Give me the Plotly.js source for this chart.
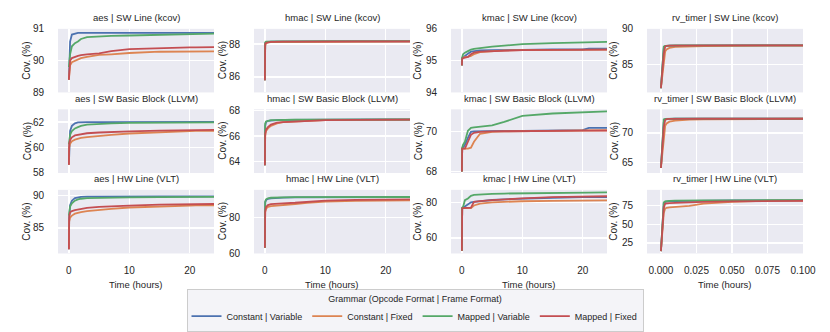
<!DOCTYPE html>
<html>
<head>
<meta charset="utf-8">
<script src="https://cdn.plot.ly/plotly-3.0.1.min.js"></script>
<style>
  html, body { margin: 0; padding: 0; background: #fff; }
  #chart { width: 830px; height: 332px; }
</style>
</head>
<body>
<div id="chart"></div>
<script>
// legend order: Constant|Variable, Constant|Fixed, Mapped|Variable, Mapped|Fixed
const seriesNames = ['Constant | Variable', 'Constant | Fixed', 'Mapped | Variable', 'Mapped | Fixed'];
const seriesColors = ['#4c72b0', '#dd8452', '#55a868', '#c44e52'];
const designs = ['aes', 'hmac', 'kmac', 'rv_timer'];
const metrics = ['SW Line (kcov)', 'SW Basic Block (LLVM)', 'HW Line (VLT)'];

// sample times (hours)
const hours = [0, 0.05, 0.2, 0.5, 1, 1.5, 2, 3, 5, 7, 10, 15, 20, 21, 24, 30];
const hoursTimer = [0, 0.001, 0.002, 0.003, 0.004, 0.006, 0.01, 0.015, 0.02, 0.03, 0.05, 0.075, 0.1, 0.15];

// SW Line (kcov)
const aesKcov = [
  [89.4, 89.9, 90.6, 90.82, 90.85, 90.87, 90.87, 90.87, 90.87, 90.87, 90.87, 90.87, 90.87, 90.87, 90.87, 90.87],
  [89.4, 89.7, 89.85, 89.95, 90.0, 90.05, 90.08, 90.12, 90.18, 90.2, 90.24, 90.28, 90.3, 90.3, 90.3, 90.3],
  [89.8, 89.9, 90.2, 90.45, 90.55, 90.6, 90.68, 90.74, 90.77, 90.78, 90.79, 90.81, 90.84, 90.85, 90.86, 90.87],
  [89.4, 89.8, 90.0, 90.08, 90.12, 90.15, 90.17, 90.2, 90.23, 90.3, 90.36, 90.4, 90.42, 90.42, 90.43, 90.43]
];
const hmacKcov = [
  [85.8, 88.05, 88.1, 88.13, 88.15, 88.15, 88.15, 88.16, 88.16, 88.16, 88.17, 88.17, 88.17, 88.17, 88.17, 88.17],
  [85.8, 87.9, 88.05, 88.1, 88.12, 88.12, 88.13, 88.13, 88.14, 88.14, 88.15, 88.15, 88.15, 88.15, 88.15, 88.15],
  [85.8, 88.1, 88.15, 88.16, 88.16, 88.17, 88.17, 88.17, 88.18, 88.18, 88.18, 88.18, 88.18, 88.18, 88.18, 88.18],
  [85.8, 88.0, 88.08, 88.12, 88.14, 88.14, 88.15, 88.15, 88.15, 88.16, 88.16, 88.16, 88.16, 88.16, 88.16, 88.16]
];
const kmacKcov = [
  [94.85, 95.08, 95.1, 95.15, 95.22, 95.28, 95.3, 95.32, 95.33, 95.34, 95.34, 95.35, 95.35, 95.38, 95.38, 95.38],
  [94.85, 95.08, 95.1, 95.1, 95.12, 95.15, 95.2, 95.27, 95.3, 95.32, 95.33, 95.34, 95.35, 95.35, 95.35, 95.35],
  [94.85, 95.1, 95.2, 95.25, 95.3, 95.35, 95.37, 95.4, 95.44, 95.47, 95.52, 95.55, 95.57, 95.58, 95.6, 95.62],
  [94.85, 95.05, 95.08, 95.1, 95.12, 95.2, 95.25, 95.28, 95.3, 95.32, 95.33, 95.34, 95.35, 95.35, 95.35, 95.35]
];
const timerKcov = [
  [81.6, 84.5, 87.3, 87.55, 87.6, 87.62, 87.63, 87.64, 87.65, 87.65, 87.66, 87.66, 87.66, 87.66],
  [81.6, 83.5, 85.5, 86.8, 87.1, 87.3, 87.45, 87.5, 87.52, 87.55, 87.6, 87.65, 87.66, 87.66],
  [81.6, 85.5, 87.5, 87.6, 87.62, 87.63, 87.64, 87.65, 87.65, 87.65, 87.66, 87.66, 87.66, 87.66],
  [81.6, 84.0, 86.5, 87.5, 87.6, 87.63, 87.64, 87.65, 87.65, 87.66, 87.66, 87.66, 87.66, 87.66]
];

// SW Basic Block (LLVM)
const aesLlvm = [
  [58.65, 60.2, 61.3, 61.7, 61.9, 61.98, 62.0, 62.0, 62.0, 62.0, 62.01, 62.01, 62.02, 62.02, 62.02, 62.02],
  [58.65, 60.0, 60.3, 60.5, 60.62, 60.7, 60.75, 60.82, 60.92, 61.0, 61.1, 61.22, 61.28, 61.3, 61.3, 61.32],
  [60.25, 60.6, 61.0, 61.3, 61.5, 61.6, 61.7, 61.8, 61.87, 61.9, 61.93, 61.95, 61.97, 61.98, 62.0, 62.0],
  [58.65, 60.3, 60.6, 60.8, 60.95, 61.0, 61.05, 61.12, 61.18, 61.22, 61.27, 61.32, 61.37, 61.38, 61.4, 61.42]
];
const hmacLlvm = [
  [63.7, 66.8, 67.1, 67.2, 67.22, 67.25, 67.26, 67.27, 67.28, 67.28, 67.29, 67.3, 67.3, 67.3, 67.3, 67.3],
  [63.7, 66.0, 66.4, 66.6, 66.8, 66.9, 67.0, 67.1, 67.15, 67.2, 67.25, 67.27, 67.28, 67.28, 67.3, 67.3],
  [63.7, 67.0, 67.15, 67.2, 67.25, 67.26, 67.27, 67.28, 67.28, 67.29, 67.3, 67.3, 67.3, 67.3, 67.3, 67.3],
  [63.7, 66.2, 66.5, 66.7, 66.9, 67.0, 67.05, 67.1, 67.15, 67.2, 67.25, 67.27, 67.28, 67.28, 67.3, 67.3]
];
const kmacLlvm = [
  [68.0, 69.15, 69.2, 69.35, 69.7, 70.0, 70.02, 70.03, 70.04, 70.05, 70.05, 70.06, 70.08, 70.2, 70.2, 70.2],
  [68.0, 69.15, 69.15, 69.15, 69.15, 69.2, 69.5, 69.9, 70.0, 70.02, 70.03, 70.05, 70.08, 70.08, 70.1, 70.1],
  [68.0, 69.2, 69.35, 69.5, 70.05, 70.2, 70.22, 70.25, 70.32, 70.5, 70.8, 70.92, 71.0, 71.0, 71.05, 71.1],
  [68.0, 69.15, 69.15, 69.15, 69.5, 69.85, 69.95, 70.0, 70.02, 70.03, 70.04, 70.05, 70.06, 70.06, 70.07, 70.07]
];
const timerLlvm = [
  [64.05, 68.0, 71.8, 72.3, 72.35, 72.38, 72.4, 72.4, 72.4, 72.4, 72.4, 72.4, 72.4, 72.4],
  [64.05, 66.5, 69.5, 71.2, 71.6, 71.9, 72.1, 72.2, 72.25, 72.3, 72.35, 72.38, 72.4, 72.4],
  [64.05, 69.5, 72.3, 72.38, 72.4, 72.4, 72.4, 72.4, 72.4, 72.4, 72.4, 72.4, 72.4, 72.4],
  [64.05, 67.5, 71.0, 72.2, 72.35, 72.38, 72.4, 72.4, 72.4, 72.4, 72.4, 72.4, 72.4, 72.4]
];

// HW Line (VLT)
const aesVlt = [
  [81.7, 86.5, 88.5, 89.2, 89.6, 89.75, 89.8, 89.82, 89.84, 89.85, 89.85, 89.85, 89.85, 89.85, 89.85, 89.85],
  [81.7, 86.0, 86.6, 86.9, 87.2, 87.35, 87.45, 87.6, 87.8, 87.95, 88.15, 88.35, 88.45, 88.47, 88.5, 88.5],
  [86.9, 87.6, 88.3, 88.8, 89.2, 89.4, 89.5, 89.58, 89.65, 89.68, 89.72, 89.75, 89.78, 89.8, 89.8, 89.82],
  [81.7, 86.8, 87.4, 87.6, 87.75, 87.85, 87.95, 88.1, 88.25, 88.35, 88.45, 88.6, 88.68, 88.7, 88.72, 88.75]
];
const hmacVlt = [
  [63.2, 88.5, 89.8, 90.5, 90.8, 91.0, 91.1, 91.2, 91.25, 91.3, 91.3, 91.35, 91.4, 91.4, 91.4, 91.4],
  [63.2, 83.0, 85.0, 86.0, 86.4, 86.6, 86.8, 87.1, 87.6, 88.2, 89.0, 89.4, 89.6, 89.6, 89.7, 89.8],
  [63.2, 89.0, 90.2, 90.8, 91.1, 91.2, 91.3, 91.35, 91.4, 91.45, 91.5, 91.5, 91.5, 91.5, 91.5, 91.5],
  [63.2, 83.5, 86.0, 87.0, 87.5, 87.7, 87.8, 88.0, 88.3, 88.8, 89.5, 89.9, 90.1, 90.1, 90.2, 90.3]
];
const kmacVlt = [
  [52.6, 77.0, 77.2, 78.0, 79.4, 80.3, 80.6, 81.0, 81.6, 82.0, 82.5, 82.9, 83.2, 83.3, 83.4, 83.5],
  [52.6, 76.8, 77.0, 77.0, 77.0, 77.0, 78.5, 79.5, 80.3, 80.6, 80.9, 81.1, 81.3, 81.3, 81.4, 81.5],
  [52.6, 77.3, 77.8, 81.5, 82.5, 84.0, 84.5, 84.8, 85.1, 85.3, 85.5, 85.7, 85.8, 85.85, 86.0, 86.1],
  [52.6, 76.9, 77.0, 77.0, 77.0, 77.2, 80.5, 81.0, 81.5, 82.0, 82.5, 83.2, 83.7, 83.8, 84.0, 84.1]
];
const timerVlt = [
  [14, 50, 78, 80, 80.5, 80.8, 81, 81.2, 81.4, 81.6, 81.8, 82, 82.2, 82.3],
  [14, 40, 65, 71, 72, 72.5, 73, 73.5, 74.5, 77.5, 80, 81.5, 82, 82.2],
  [14, 55, 79, 80.5, 81, 81.3, 81.5, 81.7, 81.8, 81.9, 82, 82.1, 82.2, 82.3],
  [14, 45, 72, 77.5, 78, 78.3, 78.6, 79, 79.3, 79.8, 80.5, 81.3, 82, 82.2]
];

const panels = [
  [aesKcov, hmacKcov, kmacKcov, timerKcov],
  [aesLlvm, hmacLlvm, kmacLlvm, timerLlvm],
  [aesVlt, hmacVlt, kmacVlt, timerVlt]
];

// axis ranges / tick steps per panel
const yRanges = [
  [[89, 91], [85.05, 88.93], [94, 96], [81, 90]],
  [[58, 63], [63.1, 68.1], [67.93, 71.13], [63.2, 74]],
  [[81.06, 90.87], [60, 95.5], [51.1, 87.4], [10.8, 96]]
];
const yDticks = [[1, 2, 1, 5], [2, 2, 2, 5], [5, 20, 20, 25]];

// pixel layout
const W = 830, H = 332;
const colLeft = [58, 254, 451, 647], plotW = 156;
const rowTop = [29, 110, 191], plotH = 64;
const ylabelX = [27, 222.5, 418, 614];
const txtColor = '#262626';
const fontFam = '"Liberation Sans", Arial, sans-serif';

const traces = [];
const layout = {
  width: W, height: H,
  margin: {l: 0, r: 0, t: 0, b: 0},
  paper_bgcolor: '#ffffff',
  plot_bgcolor: '#eaeaf2',
  font: {family: fontFam, size: 10, color: txtColor},
  showlegend: true,
  legend: {
    orientation: 'h',
    x: 0.5, xanchor: 'center',
    y: 1 - 291 / H, yanchor: 'top',
    bgcolor: 'rgba(234,234,242,0.5)',
    bordercolor: '#cccccc', borderwidth: 1,
    font: {size: 9, color: txtColor},
    title: {text: 'Grammar (Opcode Format | Frame Format)', side: 'top center', font: {size: 9, color: txtColor}},
    tracegroupgap: 0,
    itemwidth: 30
  },
  annotations: []
};

for (let r = 0; r < 3; r++) {
  for (let c = 0; c < 4; c++) {
    const idx = r * 4 + c + 1;
    const xa = 'xaxis' + (idx === 1 ? '' : idx);
    const ya = 'yaxis' + (idx === 1 ? '' : idx);
    const xref = 'x' + (idx === 1 ? '' : idx);
    const yref = 'y' + (idx === 1 ? '' : idx);
    const isTimer = c === 3;
    const t = isTimer ? hoursTimer : hours;

    layout[xa] = {
      domain: [colLeft[c] / W, (colLeft[c] + plotW) / W],
      anchor: yref,
      range: isTimer ? [-0.0098, 0.1] : [-1.8, 24],
      tickmode: 'linear',
      tick0: 0,
      dtick: isTimer ? 0.025 : 10,
      tickformat: isTimer ? '.3f' : 'd',
      showticklabels: r === 2,
      ticks: '',
      ticklabelstandoff: 10,
      showgrid: true, gridcolor: '#ffffff', gridwidth: 1.3,
      zeroline: false, showline: false,
      tickfont: {size: 10, color: txtColor}
    };
    layout[ya] = {
      domain: [1 - (rowTop[r] + plotH) / H, 1 - rowTop[r] / H],
      anchor: xref,
      range: yRanges[r][c],
      tickmode: 'linear',
      tick0: 0,
      dtick: yDticks[r][c],
      ticks: '',
      ticklabelstandoff: 13,
      showgrid: true, gridcolor: '#ffffff', gridwidth: 1.3,
      zeroline: false, showline: false,
      tickfont: {size: 10, color: txtColor}
    };

    panels[r][c].forEach((vals, s) => {
      traces.push({
        x: t, y: vals,
        xaxis: xref, yaxis: yref,
        type: 'scatter', mode: 'lines',
        name: seriesNames[s],
        legendgroup: seriesNames[s],
        showlegend: r === 0 && c === 0,
        line: {color: seriesColors[s], width: 1.8},
        hoverinfo: 'skip'
      });
    });

    // subplot title
    layout.annotations.push({
      text: designs[c] + ' | ' + metrics[r],
      xref: 'paper', yref: 'paper',
      x: (colLeft[c] + plotW / 2) / W,
      y: 1 - (rowTop[r] - 11) / H,
      xanchor: 'center', yanchor: 'middle',
      showarrow: false,
      font: {size: 9.5, color: txtColor}
    });
    // y axis title
    layout.annotations.push({
      text: 'Cov. (%)',
      xref: 'paper', yref: 'paper',
      x: ylabelX[c] / W,
      y: 1 - (rowTop[r] + plotH / 2) / H,
      xanchor: 'center', yanchor: 'middle',
      textangle: -90,
      showarrow: false,
      font: {size: 10, color: txtColor}
    });
    if (r === 2) {
      layout.annotations.push({
        text: 'Time (hours)',
        xref: 'paper', yref: 'paper',
        x: (colLeft[c] + plotW / 2) / W,
        y: 1 - 286 / H,
        xanchor: 'center', yanchor: 'middle',
        showarrow: false,
        font: {size: 9.5, color: txtColor}
      });
    }
  }
}

Plotly.newPlot('chart', traces, layout, {displayModeBar: false, staticPlot: true});
</script>
</body>
</html>
